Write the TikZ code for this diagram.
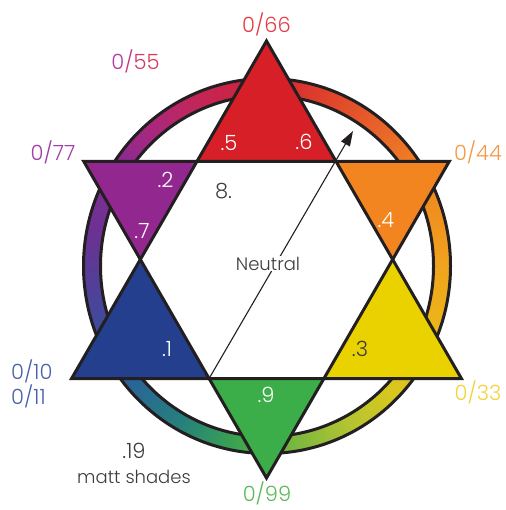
\documentclass[tikz,border=0pt]{standalone}
\usepackage{fontspec}
\setmainfont{Poppins}[UprightFont=* Light]
\usetikzlibrary{arrows.meta}
\definecolor{inkdark}{HTML}{231F20}
\definecolor{inkgrey}{HTML}{3C3C3C}
\definecolor{tipred}{HTML}{D71F27}
\definecolor{tiporange}{HTML}{F38520}
\definecolor{tipyellow}{HTML}{E9D200}
\definecolor{tipgreen}{HTML}{3CAE49}
\definecolor{tipblue}{HTML}{243F8E}
\definecolor{tippurple}{HTML}{92278F}
% ring stops (angles measured with y pointing down)
\definecolor{rA}{HTML}{F0A41E}
\definecolor{rB}{HTML}{EDB21A}
\definecolor{rC}{HTML}{D7C81E}
\definecolor{rD}{HTML}{B2C332}
\definecolor{rE}{HTML}{7DB83E}
\definecolor{rF}{HTML}{3DA64C}
\definecolor{rG}{HTML}{26807C}
\definecolor{rH}{HTML}{2A609C}
\definecolor{rI}{HTML}{3F4A9C}
\definecolor{rJ}{HTML}{663494}
\definecolor{rK}{HTML}{8A2A90}
\definecolor{rL}{HTML}{A62880}
\definecolor{rM}{HTML}{C0265C}
\definecolor{rN}{HTML}{D32234}
\definecolor{rO}{HTML}{E0452A}
\definecolor{rP}{HTML}{E8632A}
\definecolor{rQ}{HTML}{F07F22}
\definecolor{rR}{HTML}{F09A1E}
% label colours
\definecolor{lblred}{HTML}{E43C46}
\definecolor{lblorange}{HTML}{F39A48}
\definecolor{lblyellow}{HTML}{F2D43A}
\definecolor{lblgreen}{HTML}{5CB85C}
\definecolor{lblblue}{HTML}{4A62AE}
\definecolor{lblpurple}{HTML}{A03DA8}
\tikzset{
  ringband/.style={line width=17pt},
  ringedge/.style={inkdark, line width=3pt},
  starline/.style={inkdark, line width=3pt, line join=miter},
  lbl/.style={anchor=base, inner sep=0pt, font=\fontsize{21}{24}\selectfont},
  tiplbl/.style={lbl, text=white},
  greylbl/.style={lbl, text=inkgrey},
  wordlbl/.style={greylbl, font=\fontsize{18}{22}\selectfont},
  neutralarrow/.style={-{Triangle[length=15pt,width=10pt]}, inkdark, line width=1.1pt},
}

\begin{document}
\begin{tikzpicture}[x=1pt, y=-1pt]
  \useasboundingbox (0,0) rectangle (505,510);
  % colour ring
  \begin{scope}[shift={(267,266)}]
    \foreach \a/\b/\ca/\cb in {0/17/rA/rB, 17/45/rB/rC, 45/63/rC/rD, 63/80/rD/rE,
        80/99/rE/rF, 99/119/rF/rG, 119/143/rG/rH, 143/161/rH/rI, 161/187/rI/rJ,
        187/214/rJ/rK, 214/228/rK/rL, 228/244/rL/rM, 244/270/rM/rN, 270/291/rN/rO,
        291/310/rO/rP, 310/326/rP/rQ, 326/352/rQ/rR, 352/360/rR/rA}
    {
      \pgfmathtruncatemacro\w{\b-\a}
      \foreach \k in {1,...,\w}
      {
        \pgfmathsetmacro\p{100*(\k-0.5)/\w}
        \pgfmathsetmacro\s{\a+\k-1}
        \pgfmathsetmacro\e{\a+\k+0.4}
        \draw[ringband, \cb!\p!\ca] (\s:175 and 179)
          arc[start angle=\s, end angle=\e, x radius=175, y radius=179];
      }
    }
    \draw[ringedge] (0,0) ellipse [x radius=183.5, y radius=187.5];
    \draw[ringedge] (0,0) ellipse [x radius=166.5, y radius=170.5];
  \end{scope}
  % the two triangles
  \coordinate (uT) at (266.5,41);
  \coordinate (uL) at (71.6,378.5);
  \coordinate (uR) at (461.4,378.5);
  \coordinate (dL) at (83.8,161.5);
  \coordinate (dR) at (449.2,161.5);
  \coordinate (dB) at (266.5,478);
  \coordinate (hTL) at (intersection of uT--uL and dL--dR);
  \coordinate (hTR) at (intersection of uT--uR and dL--dR);
  \coordinate (hL) at (intersection of uT--uL and dL--dB);
  \coordinate (hR) at (intersection of uT--uR and dR--dB);
  \coordinate (hBL) at (intersection of uL--uR and dL--dB);
  \coordinate (hBR) at (intersection of uL--uR and dR--dB);
  \fill[white] (hTL) -- (hTR) -- (hR) -- (hBR) -- (hBL) -- (hL) -- cycle;
  \fill[tipred] (uT) -- (hTL) -- (hTR) -- cycle;
  \fill[tiporange] (dR) -- (hTR) -- (hR) -- cycle;
  \fill[tipyellow] (uR) -- (hR) -- (hBR) -- cycle;
  \fill[tipgreen] (dB) -- (hBR) -- (hBL) -- cycle;
  \fill[tipblue] (uL) -- (hBL) -- (hL) -- cycle;
  \fill[tippurple] (dL) -- (hL) -- (hTL) -- cycle;
  \draw[starline] (uT) -- (uL) -- (uR) -- cycle;
  \draw[starline] (dL) -- (dR) -- (dB) -- cycle;
  % neutral arrow
  \coordinate (arrowtip) at (353,131);
  \draw[neutralarrow] (hBL) -- (arrowtip);
  \node[wordlbl, fill=white, inner sep=1pt] (neutral) at (268,270) {Neutral};
  % numbers on the points
  \node[tiplbl] (n5) at (229,151) {.5};
  \node[tiplbl] (n6) at (304,150) {.6};
  \node[tiplbl] (n2) at (165.5,188) {.2};
  \node[tiplbl] (n7) at (142,238) {.7};
  \node[tiplbl] (n4) at (386,227) {.4};
  \node[greylbl] (n3) at (360,356) {.3};
  \node[tiplbl] (n1) at (167,356) {.1};
  \node[tiplbl] (n9) at (266,402) {.9};
  \node[greylbl] (n8) at (223.5,199) {8.};
  % outer labels
  \node[lbl, text=lblred] (l66) at (266.5,33) {0/66};
  \node[lbl] (l55) at (135.5,70)
    {\color[HTML]{B33A9E}0\color[HTML]{C23A84}/\color[HTML]{D03A6A}5\color[HTML]{DC3A55}5};
  \node[lbl, text=lblpurple] (l77) at (53,161) {0/77};
  \node[lbl, text=lblorange] (l44) at (478,161) {0/44};
  \node[lbl, text=lblyellow] (l33) at (478,400) {0/33};
  \node[lbl, text=lblgreen] (l99) at (267,501) {0/99};
  \node[lbl, text=lblblue, anchor=base west] (l10) at (11,379) {0/10};
  \node[lbl, text=lblblue, anchor=base west] (l11) at (11,404) {0/11};
  \node[greylbl] (l19) at (134,458) {.19};
  \node[wordlbl] (matt) at (134,483) {matt shades};
\end{tikzpicture}
\end{document}
